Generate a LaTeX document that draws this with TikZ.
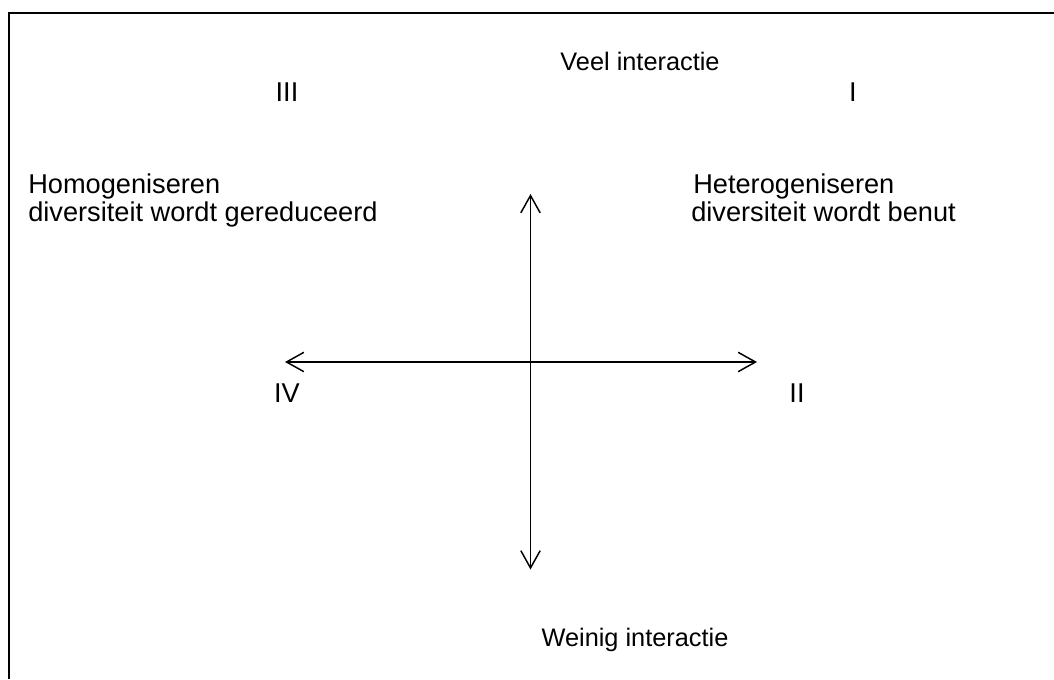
\documentclass[tikz,border=0pt]{standalone}
\usepackage{fontspec}
\setmainfont{Liberation Sans}
\usetikzlibrary{arrows.meta}
\begin{document}
\begin{tikzpicture}[x=0.75pt,y=-0.75pt,
  lbl/.style={inner sep=0pt,font=\fontsize{20.4}{24}\selectfont},
  axlbl/.style={inner sep=0pt,font=\fontsize{19}{23}\selectfont},
  axis/.style={line width=1.1pt,{Straight Barb[length=13pt,width=14.5pt,line width=1.1pt]}-{Straight Barb[length=13pt,width=14.5pt,line width=1.1pt]}},
  frame/.style={line width=1.6pt}]
\useasboundingbox (0,0) rectangle (1054,679);
\draw[frame] (9,679) -- (9,13) -- (1054,13);
% axes
\coordinate (top) at (530.5,194);
\coordinate (bot) at (530.5,569.5);
\coordinate (lft) at (285,362);
\coordinate (rgt) at (757,362);
\draw[axis] (bot) -- (top);
\draw[axis] (lft) -- (rgt);
% labels
\node[axlbl,anchor=base] (veel) at (640,70) {Veel interactie};
\node[lbl,anchor=base] (q3) at (287,101) {III};
\node[lbl,anchor=base] (q1) at (853,101) {I};
\node[lbl,anchor=base west] (homo1) at (28,193) {Homogeniseren};
\node[lbl,anchor=base west] (homo2) at (28,221) {diversiteit wordt gereduceerd};
\node[lbl,anchor=base west] (het1) at (693,193) {Heterogeniseren};
\node[lbl,anchor=base west] (het2) at (691,221) {diversiteit wordt benut};
\node[lbl,anchor=base] (q4) at (287,402) {IV};
\node[lbl,anchor=base] (q2) at (797,402) {II};
\node[axlbl,anchor=base] (weinig) at (635,646) {Weinig interactie};
\end{tikzpicture}
\end{document}
